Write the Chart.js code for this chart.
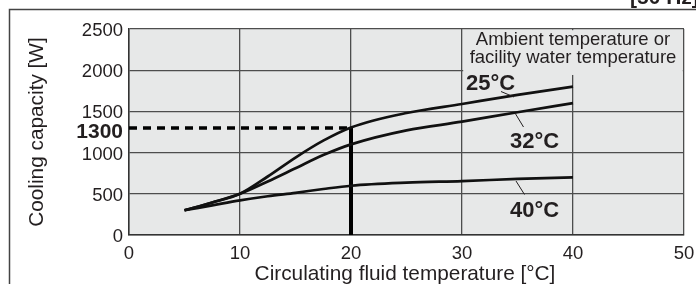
<!DOCTYPE html>
<html>
<head>
<meta charset="utf-8">
<script src="https://cdn.jsdelivr.net/npm/chart.js@4/dist/chart.umd.min.js"></script>
<style>
html,body{margin:0;padding:0;background:#fff;}
#wrap{width:696px;height:284px;position:relative;}
</style>
</head>
<body>
<div id="wrap"><canvas id="c" width="696" height="284"></canvas></div>
<script>
// ---- data ----
const temps = [5, 7.5, 10, 12.5, 15, 17.5, 20, 25, 30, 35, 40];
const cap25 = [300, 395, 500, 710, 940, 1145, 1305, 1480, 1590, 1700, 1800];
const cap32 = [300, 395, 500, 650, 810, 970, 1100, 1270, 1375, 1490, 1600];
const cap40 = [300, 360, 420, 470, 512, 558, 598, 635, 655, 680, 700];
const xTicks = [0, 10, 20, 30, 40, 50];
const yTicks = [0, 500, 1000, 1500, 2000, 2500];
const refTemp = 20;
const refCap = 1300;
const seriesLabels = ['25°C', '32°C', '40°C'];
const legendLines = ['Ambient temperature or', 'facility water temperature'];
const xTitle = 'Circulating fluid temperature [°C]';
const yTitle = 'Cooling capacity [W]';
const cornerNote = '[50 Hz]';

const BG = '#e7e8e8';
const INK = '#231f20';
const GRID = '#4d4d4d';
const FONT = '"Liberation Sans", Arial, Helvetica, sans-serif';

const toPts = arr => temps.map((t, i) => ({x: t, y: arr[i]}));

const deco = {
  id: 'deco',
  beforeDraw(chart) {
    const {ctx, chartArea: a} = chart;
    ctx.save();
    ctx.fillStyle = '#fff';
    ctx.fillRect(0, 0, chart.width, chart.height);
    ctx.fillStyle = BG;
    ctx.fillRect(a.left, a.top, a.right - a.left, a.bottom - a.top);
    // outer frame
    ctx.strokeStyle = '#444';
    ctx.lineWidth = 1.5;
    ctx.beginPath();
    ctx.moveTo(9.5, chart.height);
    ctx.lineTo(9.5, 9.5);
    ctx.lineTo(chart.width, 9.5);
    ctx.stroke();
    // corner note (mostly cut off at top)
    ctx.fillStyle = INK;
    ctx.font = 'bold 21px ' + FONT;
    ctx.textAlign = 'left';
    ctx.textBaseline = 'alphabetic';
    ctx.fillText(cornerNote, 630, 4);
    ctx.restore();
  },
  beforeDatasetsDraw(chart) {
    const {ctx} = chart;
    const xs = chart.scales.x, ys = chart.scales.y;
    const l = xs.getPixelForValue(30) + 1.2;
    const r = xs.getPixelForValue(50) - 1.2;
    const t = ys.getPixelForValue(2500) + 1.2;
    const b = ys.getPixelForValue(1942);
    ctx.save();
    ctx.fillStyle = BG;
    ctx.fillRect(l, t, r - l, b - t);
    ctx.fillStyle = INK;
    ctx.font = '18.5px ' + FONT;
    ctx.textAlign = 'center';
    ctx.textBaseline = 'alphabetic';
    const cx = xs.getPixelForValue(40);
    ctx.fillText(legendLines[0], cx, 44.5);
    ctx.fillText(legendLines[1], cx, 62.5);
    ctx.restore();
  },
  afterDatasetsDraw(chart) {
    const {ctx} = chart;
    ctx.save();
    ctx.fillStyle = INK;
    ctx.strokeStyle = INK;
    ctx.lineWidth = 1;
    ctx.font = 'bold 22px ' + FONT;
    ctx.textAlign = 'left';
    ctx.textBaseline = 'alphabetic';
    // 25°C
    ctx.fillText(seriesLabels[0], 466, 90);
    ctx.beginPath(); ctx.moveTo(501, 91.5); ctx.lineTo(514, 97); ctx.stroke();
    // 32°C
    ctx.fillText(seriesLabels[1], 510, 147.5);
    ctx.beginPath(); ctx.moveTo(515, 113); ctx.lineTo(523.5, 127); ctx.stroke();
    // 40°C
    ctx.fillText(seriesLabels[2], 510, 217);
    ctx.beginPath(); ctx.moveTo(516, 181); ctx.lineTo(524.5, 194.5); ctx.stroke();
    // 1300 label
    ctx.font = 'bold 21px ' + FONT;
    ctx.textAlign = 'right';
    ctx.textBaseline = 'middle';
    ctx.fillText(String(refCap), 123, chart.scales.y.getPixelForValue(refCap) + 4);
    ctx.restore();
  },
  afterDraw(chart) {
    const {ctx} = chart;
    ctx.save();
    ctx.fillStyle = INK;
    ctx.font = '20.8px ' + FONT;
    ctx.textAlign = 'center';
    ctx.textBaseline = 'alphabetic';
    ctx.fillText(xTitle, 405, 280);
    ctx.translate(43, 132);
    ctx.rotate(-Math.PI / 2);
    ctx.fillText(yTitle, 0, 0);
    ctx.restore();
  }
};

const lineDs = (arr) => ({
  data: toPts(arr),
  showLine: true,
  borderColor: '#111',
  borderWidth: 2.7,
  pointRadius: 0,
  fill: false,
  cubicInterpolationMode: 'monotone'
});

new Chart(document.getElementById('c'), {
  type: 'scatter',
  data: {
    datasets: [
      lineDs(cap25),
      lineDs(cap32),
      lineDs(cap40),
      {
        data: [{x: 0, y: refCap}, {x: refTemp, y: refCap}],
        showLine: true, borderColor: '#000', borderWidth: 3.5,
        borderDash: [8, 6], pointRadius: 0, borderCapStyle: 'butt'
      },
      {
        data: [{x: refTemp, y: 0}, {x: refTemp, y: refCap}],
        showLine: true, borderColor: '#000', borderWidth: 4,
        pointRadius: 0, borderCapStyle: 'butt'
      }
    ]
  },
  options: {
    responsive: false,
    animation: false,
    devicePixelRatio: 1,
    layout: {padding: {left: 0, top: 29, right: 12, bottom: 0}},
    plugins: {legend: {display: false}, tooltip: {enabled: false}},
    scales: {
      x: {
        type: 'linear', min: 0, max: 50,
        afterBuildTicks: s => { s.ticks = xTicks.map(v => ({value: v})); },
        afterFit: s => { s.height = 49; s.paddingLeft = 0; s.paddingRight = 0; },
        grid: {color: GRID, lineWidth: 1.3, drawTicks: false},
        border: {display: true, color: '#333', width: 1.5},
        ticks: {color: INK, font: {family: FONT, size: 18.5}, padding: 8, maxRotation: 0,
                callback: v => String(v)}
      },
      y: {
        type: 'linear', min: 0, max: 2500,
        afterBuildTicks: s => { s.ticks = yTicks.map(v => ({value: v})); },
        afterFit: s => { s.width = 129; s.paddingTop = 0; s.paddingBottom = 0; },
        grid: {color: GRID, lineWidth: 1.3, drawTicks: false},
        border: {display: true, color: '#333', width: 1.5},
        ticks: {color: INK, font: {family: FONT, size: 18.5}, padding: 6, labelOffset: 2,
                callback: v => String(v)}
      }
    }
  },
  plugins: [deco]
});
</script>
</body>
</html>
